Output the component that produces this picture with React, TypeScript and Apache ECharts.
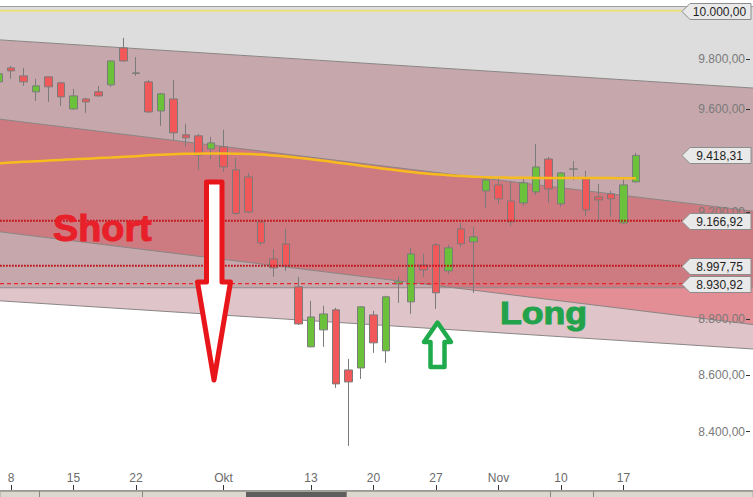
import React, { useEffect, useRef } from 'react';
import * as echarts from 'echarts';

// ---------- data ----------
const dates = [
  '05.09', '08.09', '09.09', '10.09', '11.09', '12.09', '15.09', '16.09', '17.09', '18.09',
  '19.09', '22.09', '23.09', '24.09', '25.09', '26.09', '29.09', '30.09', '01.10', '02.10',
  '06.10', '07.10', '08.10', '09.10', '10.10', '13.10', '14.10', '15.10', '16.10', '17.10',
  '20.10', '21.10', '22.10', '23.10', '24.10', '27.10', '28.10', '29.10', '30.10', '31.10',
  '03.11', '04.11', '05.11', '06.11', '07.11', '10.11', '11.11', '12.11', '13.11', '14.11',
  '17.11', '18.11', '19.11', '20.11', '21.11', '24.11', '25.11', '26.11', '27.11', '28.11',
  '01.12',
];

const tickLabels: Record<string, string> = {
  '08.09': '8', '15.09': '15', '22.09': '22', '01.10': 'Okt', '13.10': '13',
  '20.10': '20', '27.10': '27', '03.11': 'Nov', '10.11': '10', '17.11': '17',
};

const opens = [
  9709.6, 9765.9, 9733.7, 9669.5, 9729.7, 9705.6, 9601.2, 9641.3, 9669.5, 9697.6,
  9847.1, 9745.8, 9709.6, 9593.3, 9641.3, 9498.8, 9494.9, 9443.7, 9451.6, 9361.9,
  9334.9, 9162.5, 9023.0, 9079.6, 8919.5, 8700.5, 8761.8, 8834.7, 8617.6, 8624.8,
  8816.2, 8686.1, 8930.5, 8864.1, 9000.7, 9075.8, 8978.5, 9136.1, 9087.1, 9280.9,
  9304.0, 9242.4, 9234.7, 9277.1, 9404.3, 9231.2, 9365.7, 9327.2, 9257.8, 9269.4,
  9158.7, 9315.6,
];
const closes = [
  9741.8, 9753.8, 9709.6, 9693.6, 9689.6, 9649.4, 9653.4, 9629.3, 9653.4, 9794.0,
  9794.0, 9743.8, 9589.4, 9661.5, 9506.7, 9487.0, 9420.1, 9467.3, 9373.4, 9194.5,
  9200.2, 9083.3, 8989.6, 8997.0, 8783.4, 8808.8, 8819.9, 8568.0, 8575.0, 8845.8,
  8714.9, 8882.6, 8937.9, 9041.9, 8982.2, 8897.3, 9064.5, 9079.6, 9105.9, 9323.3,
  9250.1, 9162.5, 9311.8, 9373.4, 9288.6, 9350.3, 9365.0, 9207.8, 9246.3, 9250.1,
  9304.0, 9418.31,
];
const lows = [
  9701.6, 9721.7, 9693.6, 9633.3, 9629.3, 9613.3, 9599.2, 9585.4, 9649.4, 9689.6,
  9792.0, 9733.7, 9585.4, 9534.3, 9479.1, 9451.6, 9361.9, 9404.3, 9354.2, 9188.9,
  9196.4, 9075.8, 8956.4, 8978.5, 8779.8, 8698.7, 8700.5, 8553.9, 8350.7, 8585.6,
  8678.9, 8642.8, 8860.4, 8819.9, 8956.4, 8838.4, 8967.4, 9068.3, 8897.3, 9215.5,
  9231.2, 9147.4, 9223.1, 9265.5, 9234.7, 9219.3, 9323.3, 9185.1, 9162.5, 9181.3,
  9156.8, 9313.7,
];
const highs = [
  9749.8, 9773.9, 9765.9, 9721.7, 9731.7, 9709.6, 9681.5, 9645.4, 9693.6, 9796.0,
  9888.1, 9810.2, 9717.7, 9665.5, 9717.7, 9542.1, 9502.8, 9490.9, 9518.5, 9408.3,
  9350.3, 9166.3, 9060.7, 9136.1, 8956.4, 8867.8, 8849.4, 8842.1, 8657.3, 8847.6,
  8831.0, 8886.3, 8956.4, 9064.5, 9041.9, 9083.3, 9075.8, 9158.7, 9143.6, 9334.9,
  9331.0, 9315.6, 9327.2, 9463.4, 9412.2, 9354.2, 9396.5, 9358.0, 9307.9, 9280.9,
  9327.2, 9428.0,
];
const movingAverage = [
  9387.3, 9390.4, 9393.5, 9395.8, 9398.1, 9400.8, 9403.1, 9405.5, 9407.8, 9410.2,
  9413.0, 9415.4, 9418.5, 9420.9, 9422.8, 9424.4, 9425.2, 9425.6, 9425.6, 9425.2,
  9424.0, 9421.7, 9418.1, 9413.8, 9408.7, 9403.1, 9397.3, 9391.1, 9385.0, 9378.4,
  9371.9, 9365.7, 9359.5, 9354.2, 9349.1, 9344.9, 9341.1, 9338.0, 9335.7, 9333.7,
  9332.6, 9331.8, 9331.4, 9331.0, 9331.0, 9330.6, 9330.6, 9330.2, 9330.2, 9330.2,
  9329.8, 9329.8,
];

// axis ticks; the labels of 10.000, 9.400 and 9.000 sit under the price tags in the original
const yTicks = [10000, 9800, 9600, 9400, 9200, 9000, 8800, 8600, 8400];
const yTickLabels = [9800, 9600, 9200, 8800, 8600, 8400];
const yMin = 8199.6;
const yMax = 10019.5;

// channel lines: [startIndex, startPrice, endIndex, endPrice]
const channelUpper = [0, 9880.3, 60, 9685.9];
const channelInnerTop = [0, 9561.4, 60, 9205.4];
const channelInnerBottom = [0, 9125.6, 60, 8783.1];
const channelLower = [0, 8868.2, 60, 8693.7];
const zoneFloor = 8916;

const levelPrices = [10000, 9166.92, 8997.75, 8930.92];
const levelKinds = ['target', 'resistance', 'resistance', 'support'];
const tagPrices = [10000, 9418.31, 9166.92, 8997.75, 8930.92];

// ---------- helpers ----------
const fmt = (v: number) => {
  const [i, d] = Number(v).toFixed(2).split('.');
  return i.replace(/\B(?=(\d{3})+(?!\d))/g, '.') + ',' + d;
};

function clipPoly(pts: number[][], yh: number, keepAbove: boolean) {
  const out: number[][] = [];
  for (let i = 0; i < pts.length; i++) {
    const a = pts[i];
    const b = pts[(i + 1) % pts.length];
    const ina = keepAbove ? a[1] <= yh : a[1] >= yh;
    const inb = keepAbove ? b[1] <= yh : b[1] >= yh;
    if (ina) out.push(a);
    if (ina !== inb) {
      const t = (yh - a[1]) / (b[1] - a[1]);
      out.push([a[0] + t * (b[0] - a[0]), yh]);
    }
  }
  return out;
}

function lineFn(api: any, def: number[]) {
  const a = api.coord([def[0], def[1]]);
  const b = api.coord([def[2], def[3]]);
  return (x: number) => a[1] + ((x - a[0]) * (b[1] - a[1])) / (b[0] - a[0]);
}

const FONT = '"Liberation Sans", Arial, sans-serif';
const TAG_W = 61;
const TAG_TIP = 8;

const levelStyle = (kind: string) => {
  if (kind === 'target') return { stroke: '#ebe07c', lineWidth: 2 };
  if (kind === 'resistance') return { stroke: '#c0171f', lineWidth: 2, lineDash: [1.8, 1.2] };
  return { stroke: '#e8262b', lineWidth: 1.2, lineDash: [4, 3] };
};

export default function App() {
  const ref = useRef<HTMLDivElement>(null);
  useEffect(() => {
    document.body.style.margin = '0';
    const chart = echarts.init(ref.current!, null, { renderer: 'svg' });
    const catInterval = (idx: number, val: string) => tickLabels[val] !== undefined;

    const option: any = {
      animation: false,
      backgroundColor: '#ffffff',
      textStyle: { fontFamily: FONT },
      grid: {
        left: -7.75,
        right: -1.75,
        top: 6,
        bottom: 7,
        containLabel: false,
        outerBoundsMode: 'none',
      },
      xAxis: {
        type: 'category',
        data: dates,
        boundaryGap: true,
        z: 2,
        axisLine: { show: true, lineStyle: { color: '#9a9a9a', width: 1 } },
        axisTick: {
          show: true,
          inside: true,
          length: 5,
          alignWithLabel: true,
          interval: catInterval,
          lineStyle: { color: '#333333' },
        },
        axisLabel: {
          show: true,
          inside: true,
          margin: 6,
          interval: catInterval,
          formatter: (v: string) => tickLabels[v] ?? '',
          color: '#6a6a6a',
          fontSize: 12,
          fontFamily: FONT,
        },
        splitLine: { show: false },
      },
      yAxis: {
        type: 'log',
        logBase: 10,
        min: yMin,
        max: yMax,
        position: 'right',
        offset: -4.75,
        z: 2,
        axisLine: { show: false },
        splitLine: { show: false },
        axisTick: {
          show: true,
          inside: true,
          length: 4,
          customValues: yTicks,
          lineStyle: { color: '#333333' },
        },
        axisLabel: {
          show: true,
          inside: true,
          margin: 5,
          customValues: yTickLabels,
          formatter: (v: number) => fmt(v),
          color: '#7a7a7a',
          fontSize: 12,
          fontFamily: FONT,
        },
      },
      series: [
        {
          type: 'custom',
          name: 'bands',
          z: 1,
          silent: true,
          clip: false,
          data: [[0, zoneFloor]],
          renderItem: (params: any, api: any) => {
            const cs = params.coordSys;
            const xl = cs.x;
            const xr = cs.x + cs.width;
            const yt = cs.y;
            const yh = api.coord([0, zoneFloor])[1];
            const u = lineFn(api, channelUpper);
            const it = lineFn(api, channelInnerTop);
            const ib = lineFn(api, channelInnerBottom);
            const lo = lineFn(api, channelLower);
            const children: any[] = [];
            const addBand = (pts: number[][], upperFill: string | null, lowerFill: string | null) => {
              const up = clipPoly(pts, yh, true);
              if (up.length > 2 && upperFill) children.push({ type: 'polygon', shape: { points: up }, style: { fill: upperFill } });
              const dn = clipPoly(pts, yh, false);
              if (dn.length > 2 && lowerFill) children.push({ type: 'polygon', shape: { points: dn }, style: { fill: lowerFill } });
            };
            addBand([[xl, yt], [xr, yt], [xr, u(xr)], [xl, u(xl)]], '#dddddd', null);
            addBand([[xl, u(xl)], [xr, u(xr)], [xr, lo(xr)], [xl, lo(xl)]], '#c6a8ac', '#dfc4ca');
            addBand([[xl, it(xl)], [xr, it(xr)], [xr, ib(xr)], [xl, ib(xl)]], '#cd7b80', '#e38e95');
            [u, it, ib, lo].forEach((f) => {
              children.push({ type: 'line', shape: { x1: xl, y1: f(xl), x2: xr, y2: f(xr) }, style: { stroke: '#8a8585', lineWidth: 1 } });
            });
            children.push({ type: 'line', shape: { x1: xl, y1: yh, x2: xr, y2: yh }, style: { stroke: '#8e8686', lineWidth: 1 } });
            children.push({ type: 'line', shape: { x1: xl, y1: yt + 0.5, x2: xr, y2: yt + 0.5 }, style: { stroke: '#a0a0a0', lineWidth: 1 } });
            return { type: 'group', children };
          },
        },
        {
          type: 'candlestick',
          name: 'DAX',
          z: 3,
          barWidth: 8,
          data: opens.map((o, i) => [o, closes[i], lows[i], highs[i]]),
          itemStyle: {
            color: '#6cc13b',
            color0: '#f0585a',
            borderColor: '#7b7b7b',
            borderColor0: '#7b7b7b',
            borderColorDoji: '#7b7b7b',
            borderWidth: 1,
          },
        },
        {
          type: 'line',
          name: 'MA',
          z: 4,
          data: movingAverage,
          smooth: true,
          symbol: 'none',
          showSymbol: false,
          lineStyle: { color: '#f7bb1e', width: 2.5 },
        },
        {
          type: 'custom',
          name: 'levels',
          z: 5,
          silent: true,
          clip: false,
          data: levelPrices.map((p, i) => [0, p, i]),
          renderItem: (params: any, api: any) => {
            const y = api.coord([0, api.value(1)])[1];
            const kind = levelKinds[api.value(2)];
            const xEnd = api.getWidth() - 2 - TAG_W - TAG_TIP;
            return { type: 'line', shape: { x1: 0, y1: y, x2: xEnd, y2: y }, style: levelStyle(kind) };
          },
        },
        {
          type: 'custom',
          name: 'tags',
          z: 6,
          silent: true,
          clip: false,
          data: tagPrices.map((p) => [0, p]),
          renderItem: (params: any, api: any) => {
            const v = api.value(1);
            const y = Math.round(api.coord([0, v])[1]) + 0.5;
            const xr = api.getWidth() - 2;
            const xb = xr - TAG_W;
            const xt = xb - TAG_TIP;
            return {
              type: 'group',
              children: [
                {
                  type: 'polygon',
                  shape: { points: [[xt, y], [xb, y - 8], [xr, y - 8], [xr, y + 8], [xb, y + 8]] },
                  style: { fill: '#e9e9e9', stroke: '#8c8c8c', lineWidth: 1 },
                },
                {
                  type: 'text',
                  x: (xb + xr) / 2 - 1,
                  y: y,
                  style: {
                    text: fmt(v),
                    fill: '#1e1e1e',
                    font: '12px ' + FONT,
                    align: 'center',
                    verticalAlign: 'middle',
                    textAlign: 'center',
                    textVerticalAlign: 'middle',
                  },
                },
              ],
            };
          },
        },
      ],
      graphic: [
        {
          type: 'rect',
          z: 50,
          shape: { x: 0, y: 491.5, width: 753, height: 6 },
          style: { fill: '#dcd8d0', stroke: '#a8a49c', lineWidth: 1 },
        },
        {
          type: 'rect',
          z: 51,
          shape: { x: 246, y: 492, width: 100, height: 5 },
          style: { fill: '#5e5e5e' },
        },
        ...[39, 142, 346, 550, 593].map((x) => ({
          type: 'line',
          z: 52,
          shape: { x1: x + 0.5, y1: 491, x2: x + 0.5, y2: 497 },
          style: { stroke: '#8a867e', lineWidth: 1 },
        })),
        {
          type: 'polygon',
          z: 100,
          shape: { points: [[206.5, 182], [222, 182], [222, 282], [230.5, 282], [214, 380], [197.5, 282], [206.5, 282]] },
          style: { fill: '#ffffff', stroke: '#e8151b', lineWidth: 5, lineJoin: 'round' },
        },
        {
          type: 'polygon',
          z: 100,
          shape: { points: [[437.5, 322.5], [451, 342], [444.5, 342], [444.5, 367], [430.5, 367], [430.5, 342], [424, 342]] },
          style: { fill: '#ffffff', stroke: '#1faa4b', lineWidth: 4.5, lineJoin: 'round' },
        },
        {
          type: 'text',
          z: 100,
          x: 53,
          y: 229,
          scaleX: 1.05,
          style: {
            text: 'Short',
            fill: '#e8202a',
            stroke: '#e8202a',
            lineWidth: 1,
            font: 'bold 36px ' + FONT,
            textVerticalAlign: 'middle',
            verticalAlign: 'middle',
          },
        },
        {
          type: 'text',
          z: 100,
          x: 500,
          y: 313,
          scaleX: 1.15,
          style: {
            text: 'Long',
            fill: '#22a34b',
            stroke: '#22a34b',
            lineWidth: 1,
            font: 'bold 31px ' + FONT,
            textVerticalAlign: 'middle',
            verticalAlign: 'middle',
          },
        },
      ],
    };
    chart.setOption(option);
    return () => chart.dispose();
  }, []);
  return <div ref={ref} style={{ width: 753, height: 497, position: 'fixed', left: 0, top: 0 }} />;
}
